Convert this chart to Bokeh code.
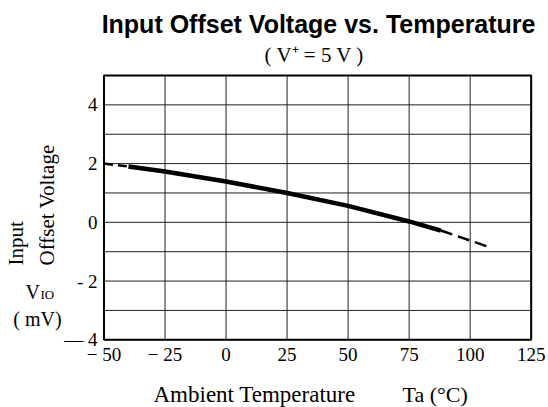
import math
from bokeh.plotting import figure
from bokeh.models import Label, Range1d
from bokeh.core.properties import value
from bokeh.embed import file_html
from bokeh.resources import INLINE

# ---- data ----
x_ticks = [-50, -25, 0, 25, 50, 75, 100, 125]
x_tick_labels = ["\u2212 50", "\u2212 25", "0", "25", "50", "75", "100", "125"]
y_ticks = [-4, -2, 0, 2, 4]
y_tick_labels = ["\u2014 4", "- 2", "0", "2", "4"]
y_grid = [-4, -3, -2, -1, 0, 1, 2, 3, 4, 5]

temp_dash_lo = [-50, -40]
vio_dash_lo = [2.0, 1.9]
temp_solid = [-40, -25, 0, 25, 50, 75, 88]
vio_solid = [1.9, 1.73, 1.39, 1.0, 0.56, 0.03, -0.28]
temp_dash_hi = [88, 100, 108]
vio_dash_hi = [-0.28, -0.62, -0.85]

SERIF = "Liberation Serif"
SANS = "Liberation Sans"

# ---- layout (page pixels) ----
W, H = 548, 407
BOX_L, BOX_R, BOX_T, BOX_B = 103.5, 530.7, 75.0, 339.3

xmin, xmax = min(x_ticks), max(x_ticks)
ymin, ymax = min(y_grid), max(y_grid)
sx = (BOX_R - BOX_L) / (xmax - xmin)
sy = (BOX_B - BOX_T) / (ymax - ymin)

p = figure(width=W, height=H, output_backend="svg", toolbar_location=None,
           x_range=Range1d(xmin - BOX_L / sx, xmax + (W - BOX_R) / sx),
           y_range=Range1d(ymin - (H - BOX_B) / sy, ymax + BOX_T / sy),
           min_border=0, x_axis_location=None, y_axis_location=None, title=None)
p.extra_x_ranges = {"page": Range1d(0, W)}
p.extra_y_ranges = {"page": Range1d(H, 0)}
p.grid.visible = False
p.outline_line_color = None
p.background_fill_color = "white"
p.border_fill_color = "white"

# grid lines at every tick
p.segment(x0=x_ticks, y0=[ymin] * len(x_ticks), x1=x_ticks, y1=[ymax] * len(x_ticks),
          line_color="#222222", line_width=1)
p.segment(x0=[xmin] * len(y_grid), y0=y_grid, x1=[xmax] * len(y_grid), y1=y_grid,
          line_color="#222222", line_width=1)
# frame box
p.quad(left=[xmin], right=[xmax], bottom=[ymin], top=[ymax], fill_color=None,
       line_color="black", line_width=2)

# tick labels
p.text(x=x_ticks, y=[354] * len(x_ticks), text=x_tick_labels, y_range_name="page",
       text_font=value(SERIF), text_font_size=value("19px"), text_align="center",
       text_baseline="middle", text_color="black")
p.text(x=[97] * len(y_ticks), y=y_ticks, text=y_tick_labels, x_range_name="page",
       text_font=value(SERIF), text_font_size=value("19px"), text_align="right",
       text_baseline="middle", text_color="black")

# curve
p.line(temp_dash_lo, vio_dash_lo, line_color="black", line_width=2.5, line_dash="9 5")
p.line(temp_solid, vio_solid, line_color="black", line_width=4.5)
p.line(temp_dash_hi, vio_dash_hi, line_color="black", line_width=2.5, line_dash="12 6")


def lab(text, px, py, size, font=SERIF, align="left", baseline="middle",
        angle=0.0, style="normal"):
    p.add_layout(Label(x=px, y=py, x_range_name="page", y_range_name="page", text=text,
                       text_font=font, text_font_size=size, text_align=align,
                       text_baseline=baseline, angle=angle, text_color="black",
                       text_font_style=style))


lab("Input Offset Voltage vs. Temperature", 535, 23, "25px", font=SANS,
    align="right", style="bold")
lab("( V\u207a = 5 V )", 314, 54, "21px", align="center")

lab("Input", 15, 265, "21px", angle=math.pi / 2)
lab("Offset Voltage", 46, 265, "21px", angle=math.pi / 2)
lab("V", 25, 291, "20px")
lab("IO", 40, 294, "13px")
lab("( mV)", 37, 318, "20px", align="center")

lab("Ambient Temperature", 153, 394, "23px")
lab("Ta (\u00b0C)", 402, 394, "22px")

open("out.html", "w").write(file_html(p, INLINE))
